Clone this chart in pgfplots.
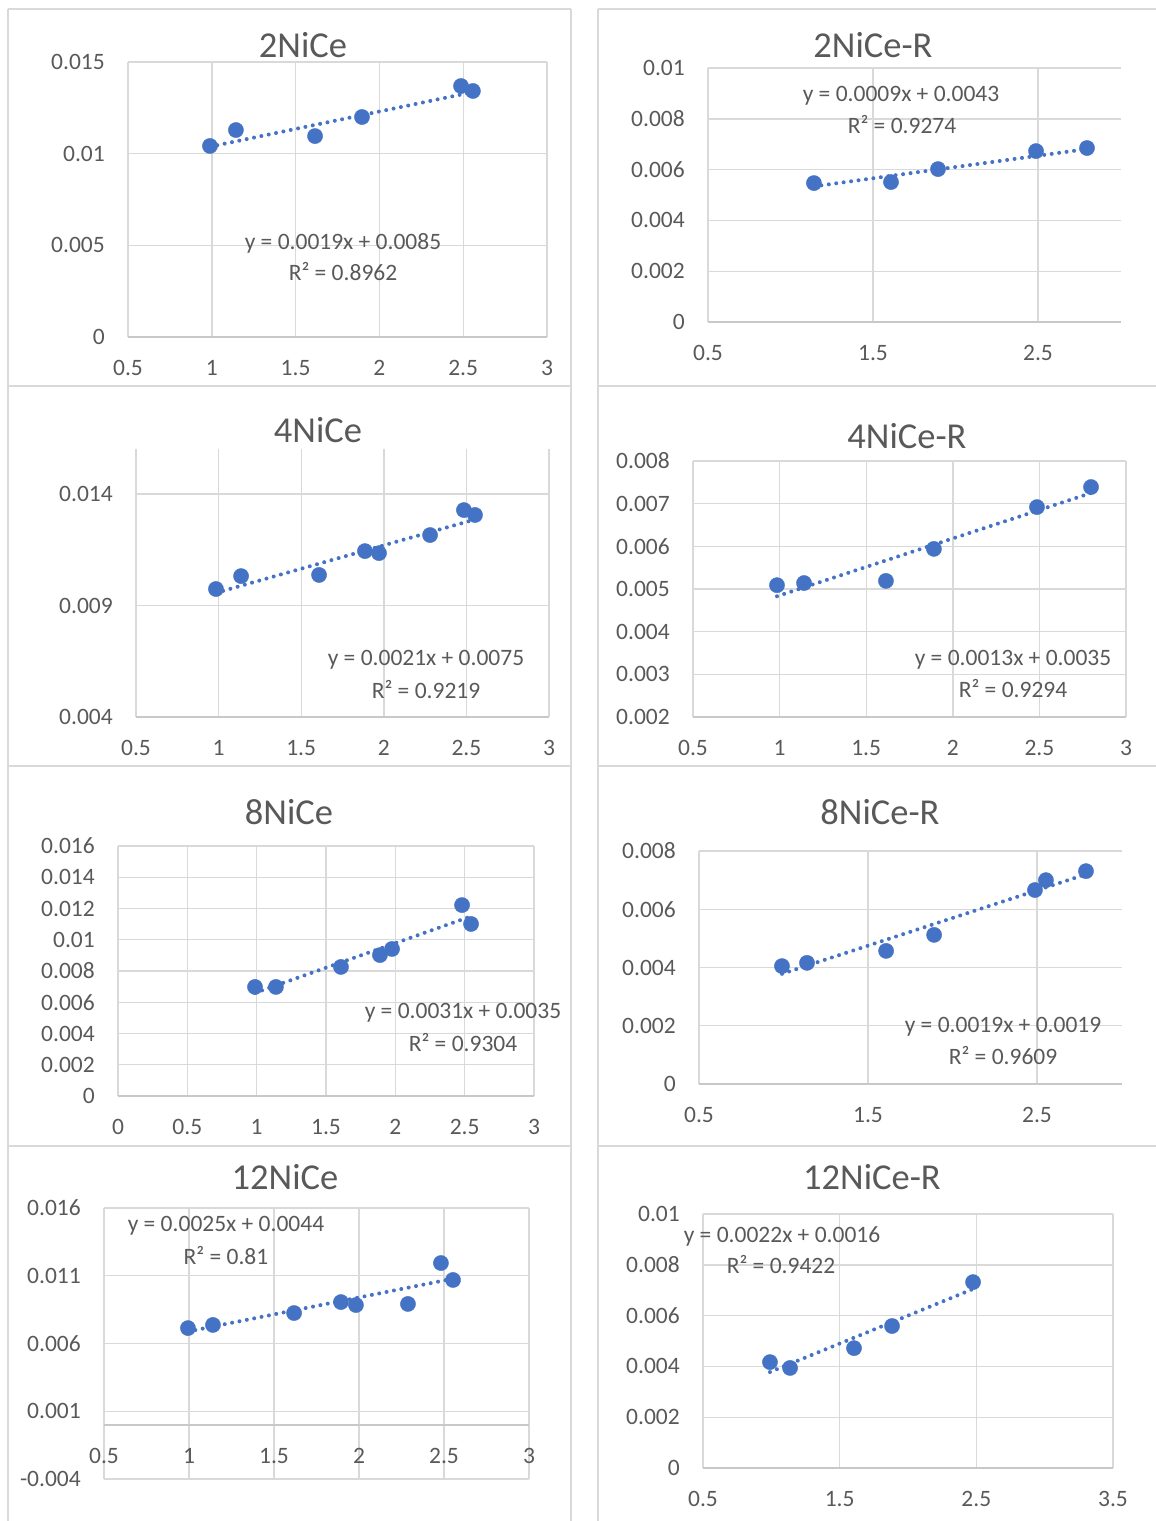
\documentclass[border=0pt]{standalone}
\usepackage{fontspec}
\setmainfont{Carlito}
\newfontfamily\xl{Carlito}
\usepackage{pgfplots}
\pgfplotsset{compat=1.18}
\definecolor{xlblue}{HTML}{4472C4}
\definecolor{gridc}{HTML}{D9D9D9}
\definecolor{axc}{HTML}{C8C8C8}
\definecolor{txt}{HTML}{595959}
\definecolor{brd}{HTML}{D9D9D9}
\newcommand\tickfont{\xl\fontsize{23.5}{28}\selectfont}
\newcommand\titlefont{\xl\fontsize{36.5}{40}\selectfont}
\pgfplotsset{xl/.style={scale only axis, axis line style={draw=none}, major tick length=0pt,
  tick style={draw=none}, grid=major, major grid style={gridc, line width=1.4pt},
  scaled ticks=false, tick label style={font=\tickfont, text=txt, inner sep=0pt},
  xticklabel style={anchor=center, yshift=-31pt}, yticklabel style={anchor=east, xshift=-23pt},
  anchor=south west, clip=false},
  pts/.style={only marks, mark=*, mark size=7.6pt, color=xlblue, mark options={draw=xlblue, fill=xlblue}},
  trend/.style={xlblue, line width=4pt, dash pattern=on 0pt off 7.5pt, line cap=round}}
\begin{document}
\begin{tikzpicture}
\path[use as bounding box] (0pt,0pt) rectangle (1156pt,-1521pt);
% panel borders
\begin{scope}[brd, line width=2.5pt]
\foreach \yy in {9,386,766,1146}{
  \draw (8pt,-\yy pt) -- (571pt,-\yy pt);
  \draw (598pt,-\yy pt) -- (1160pt,-\yy pt);
}
\foreach \xx in {8,571,598}{
  \draw (\xx pt,-9pt) -- (\xx pt,-1525pt);
}
\end{scope}

% P1 2NiCe
\begin{axis}[xl, at={(128pt,-337pt)}, width=419pt, height=275pt,
  xmin=0.5, xmax=3, ymin=0, ymax=0.015,
  xtick={0.5,1,1.5,2,2.5,3}, xticklabels={0.5,1,1.5,2,2.5,3},
  ytick={0,0.005,0.01,0.015}, yticklabels={0,0.005,0.01,0.015}]
\draw[axc, line width=1.5pt] (axis cs:0.5,0) -- (axis cs:3,0);
\addplot[pts] coordinates {(0.989,0.01042)(1.144,0.01129)(1.616,0.01096)(1.896,0.0120)(2.487,0.01369)(2.558,0.01342)};
\addplot[trend] coordinates {(0.989,0.010379)(2.558,0.013360)};
\end{axis}
\node[font=\titlefont, text=txt] at (303pt,-45pt) {2NiCe};
\node[font=\tickfont, text=txt] at (343pt,-243pt) {y = 0.0019x + 0.0085};
\node[font=\tickfont, text=txt] at (343pt,-272pt) {R² = 0.8962};

% P2 2NiCe-R
\begin{axis}[xl, at={(708pt,-322pt)}, width=412.5pt, height=254pt,
  xmin=0.5, xmax=3, ymin=0, ymax=0.01,
  xtick={0.5,1.5,2.5}, xticklabels={0.5,1.5,2.5},
  ytick={0,0.002,0.004,0.006,0.008,0.01}, yticklabels={0,0.002,0.004,0.006,0.008,0.01}]
\draw[axc, line width=1.5pt] (axis cs:0.5,0) -- (axis cs:3,0);
\addplot[pts] coordinates {(1.142,0.00547)(1.609,0.00551)(1.894,0.00602)(2.488,0.00673)(2.797,0.00685)};
\addplot[trend] coordinates {(1.142,0.00534)(2.797,0.00681)};
\end{axis}
\node[font=\titlefont, text=txt] at (873pt,-45pt) {2NiCe-R};
\node[font=\tickfont, text=txt] at (901pt,-96pt) {y = 0.0009x + 0.0043};
\node[font=\tickfont, text=txt] at (902pt,-125pt) {R² = 0.9274};

% P3 4NiCe
\begin{axis}[xl, at={(136pt,-717pt)}, width=413pt, height=267.6pt,
  xmin=0.5, xmax=3, ymin=0.004, ymax=0.016,
  xtick={0.5,1,1.5,2,2.5,3}, xticklabels={0.5,1,1.5,2,2.5,3},
  ytick={0.004,0.009,0.014}, yticklabels={0.004,0.009,0.014}]
\draw[axc, line width=1.5pt] (axis cs:0.5,0.004) -- (axis cs:3,0.004);
\addplot[pts] coordinates {(0.984,0.00974)(1.136,0.01032)(1.608,0.01037)(1.886,0.01144)(1.971,0.01135)(2.280,0.01216)(2.485,0.01328)(2.552,0.01306)};
\addplot[trend] coordinates {(0.984,0.009566)(2.552,0.012859)};
\end{axis}
\node[font=\titlefont, text=txt] at (318pt,-430pt) {4NiCe};
\node[font=\tickfont, text=txt] at (426pt,-660pt) {y = 0.0021x + 0.0075};
\node[font=\tickfont, text=txt] at (426pt,-690pt) {R² = 0.9219};

% P4 4NiCe-R
\begin{axis}[xl, at={(693pt,-717pt)}, width=433pt, height=256pt,
  xmin=0.5, xmax=3, ymin=0.002, ymax=0.008,
  xtick={0.5,1,1.5,2,2.5,3}, xticklabels={0.5,1,1.5,2,2.5,3},
  ytick={0.002,0.003,0.004,0.005,0.006,0.007,0.008}, yticklabels={0.002,0.003,0.004,0.005,0.006,0.007,0.008}]
\draw[axc, line width=1.5pt] (axis cs:0.5,0.002) -- (axis cs:3,0.002);
\addplot[pts] coordinates {(0.985,0.00509)(1.141,0.00514)(1.614,0.00519)(1.891,0.00594)(2.486,0.00692)(2.798,0.00739)};
\addplot[trend] coordinates {(0.985,0.00483)(2.798,0.00725)};
\end{axis}
\node[font=\titlefont, text=txt] at (907pt,-436pt) {4NiCe-R};
\node[font=\tickfont, text=txt] at (1013pt,-660pt) {y = 0.0013x + 0.0035};
\node[font=\tickfont, text=txt] at (1013pt,-689pt) {R² = 0.9294};

% P5 8NiCe
\begin{axis}[xl, at={(118pt,-1096pt)}, width=416pt, height=250pt,
  xmin=0, xmax=3, ymin=0, ymax=0.016,
  xtick={0,0.5,1,1.5,2,2.5,3}, xticklabels={0,0.5,1,1.5,2,2.5,3},
  ytick={0,0.002,0.004,0.006,0.008,0.01,0.012,0.014,0.016}, yticklabels={0,0.002,0.004,0.006,0.008,0.01,0.012,0.014,0.016}]
\draw[axc, line width=1.5pt] (axis cs:0,0) -- (axis cs:3,0);
\addplot[pts] coordinates {(0.988,0.00698)(1.139,0.00698)(1.608,0.00826)(1.889,0.00902)(1.976,0.00941)(2.481,0.01222)(2.546,0.01101)};
\addplot[trend] coordinates {(0.988,0.0066)(2.546,0.0115)};
\end{axis}
\node[font=\titlefont, text=txt] at (289pt,-812pt) {8NiCe};
\node[font=\tickfont, text=txt] at (463pt,-1013pt) {y = 0.0031x + 0.0035};
\node[font=\tickfont, text=txt] at (463pt,-1043pt) {R² = 0.9304};

% P6 8NiCe-R
\begin{axis}[xl, at={(699pt,-1084pt)}, width=422.5pt, height=233pt,
  xmin=0.5, xmax=3, ymin=0, ymax=0.008,
  xtick={0.5,1.5,2.5}, xticklabels={0.5,1.5,2.5},
  ytick={0,0.002,0.004,0.006,0.008}, yticklabels={0,0.002,0.004,0.006,0.008}]
\draw[axc, line width=1.5pt] (axis cs:0.5,0) -- (axis cs:3,0);
\addplot[pts] coordinates {(0.991,0.00405)(1.139,0.00416)(1.607,0.00457)(1.891,0.00512)(2.488,0.00666)(2.553,0.00700)(2.790,0.00731)};
\addplot[trend] coordinates {(0.991,0.003783)(2.790,0.007201)};
\end{axis}
\node[font=\titlefont, text=txt] at (880pt,-812pt) {8NiCe-R};
\node[font=\tickfont, text=txt] at (1003pt,-1027pt) {y = 0.0019x + 0.0019};
\node[font=\tickfont, text=txt] at (1003pt,-1056pt) {R² = 0.9609};

% P7 12NiCe
\begin{axis}[xl, at={(104pt,-1479pt)}, width=425pt, height=271pt,
  xmin=0.5, xmax=3, ymin=-0.004, ymax=0.016,
  xtick={0.5,1,1.5,2,2.5,3}, xticklabels={0.5,1,1.5,2,2.5,3},
  xticklabel style={yshift=54pt},
  ytick={-0.004,0.001,0.006,0.011,0.016}, yticklabels={-0.004,0.001,0.006,0.011,0.016}]
\draw[axc, line width=1.5pt] (axis cs:0.5,0) -- (axis cs:3,0);
\addplot[pts] coordinates {(0.994,0.00714)(1.141,0.00737)(1.618,0.00825)(1.894,0.00906)(1.982,0.00884)(2.288,0.00892)(2.482,0.01194)(2.553,0.01069)};
\addplot[trend] coordinates {(0.994,0.006885)(2.553,0.010783)};
\end{axis}
\node[font=\titlefont, text=txt] at (285pt,-1177pt) {12NiCe};
\node[font=\tickfont, text=txt] at (226pt,-1226pt) {y = 0.0025x + 0.0044};
\node[font=\tickfont, text=txt] at (226pt,-1256pt) {R² = 0.81};

% P8 12NiCe-R
\begin{axis}[xl, at={(703pt,-1468pt)}, width=410pt, height=254pt,
  xmin=0.5, xmax=3.5, ymin=0, ymax=0.01,
  xtick={0.5,1.5,2.5,3.5}, xticklabels={0.5,1.5,2.5,3.5},
  ytick={0,0.002,0.004,0.006,0.008,0.01}, yticklabels={0,0.002,0.004,0.006,0.008,0.01}]
\draw[axc, line width=1.5pt] (axis cs:0.5,0) -- (axis cs:3.5,0);
\addplot[pts] coordinates {(0.990,0.00417)(1.137,0.00394)(1.605,0.00472)(1.883,0.00559)(2.476,0.00732)};
\addplot[trend] coordinates {(0.990,0.003778)(2.476,0.007047)};
\end{axis}
\node[font=\titlefont, text=txt] at (872pt,-1177pt) {12NiCe-R};
\node[font=\tickfont, text=txt] at (782pt,-1236pt) {y = 0.0022x + 0.0016};
\node[font=\tickfont, text=txt] at (781pt,-1265pt) {R² = 0.9422};
\end{tikzpicture}
\end{document}
